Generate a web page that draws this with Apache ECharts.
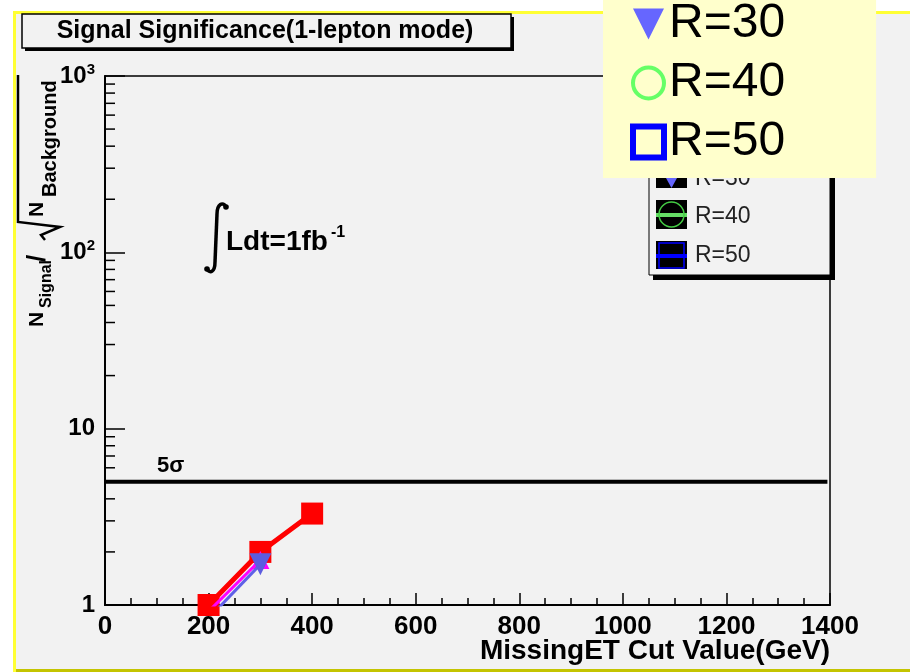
<!DOCTYPE html>
<html>
<head>
<meta charset="utf-8">
<title>Signal Significance</title>
<script src="https://cdn.jsdelivr.net/npm/echarts@6/dist/echarts.min.js"></script>
<style>
  html, body { margin: 0; padding: 0; background: #fff; }
  #chart { width: 910px; height: 672px; }
</style>
</head>
<body>
<div id="chart"></div>
<script>
const FONT = "'Liberation Sans', Arial, sans-serif"

// values
const r10X = [200, 300, 400]
const r10Y = [1.0, 2.0, 3.3]
const r20X = [200, 300]
const r20Y = [0.92, 1.8]
const r30X = [200, 300]
const r30Y = [0.84, 1.7]
const fiveSigma = 5
const fiveSigmaX = [0, 1395]
const yMinorTicks = [2, 3, 4, 5, 6, 7, 8, 9, 20, 30, 40, 50, 60, 70, 80, 90, 200, 300, 400, 500, 600, 700, 800, 900]
const yTickLabels = { 1: "1", 10: "10", 100: "10{sup|2}", 1000: "10{sup|3}" }
const legendNames = ["R=30", "R=40", "R=50"]

const pairs = (xs, ys) => xs.map((x, i) => [x, ys[i]])

const chart = echarts.init(document.getElementById("chart"), null, { renderer: "canvas" })

// text placed by its baseline (approx: middle of caps sits 0.36em above it)
const txt = (x, baseline, text, size, extra) => ({
  type: "text", x, y: baseline - 0.36 * size, silent: true, z: 5,
  style: Object.assign({ text, fill: "#000", font: "bold " + size + "px " + FONT, verticalAlign: "middle" }, extra || {}),
})
const curve = (s) => ({ type: "bezierCurve", silent: true, z: 5, shape: s, style: { fill: "none", stroke: "#000", lineWidth: 3.5 } })

chart.setOption({
  backgroundColor: "#f2f2f2",
  animation: false,
  grid: {
    left: 105, right: 80, top: 76, bottom: 67,
    containLabel: false, outerBoundsMode: "none",
    show: true, borderColor: "#000", borderWidth: 1.5, backgroundColor: "transparent",
  },
  legend: {
    data: [
      { name: legendNames[0], icon: "path://M0,0L10,0L5,10Z", itemStyle: { color: "#6666ff" } },
      { name: legendNames[1], icon: "circle", itemStyle: { color: "rgba(0,0,0,0)", borderColor: "#66ff66", borderWidth: 4 } },
      { name: legendNames[2], icon: "rect", itemStyle: { color: "rgba(0,0,0,0)", borderColor: "#0000ff", borderWidth: 6 } },
    ],
    orient: "vertical",
    left: 603, top: 0,
    padding: [0, 91, 12, 27],
    itemWidth: 31, itemHeight: 31, itemGap: 11,
    backgroundColor: "#ffffcc",
    selectedMode: false,
    textStyle: { fontSize: 48, color: "#000", fontFamily: FONT },
    z: 20,
  },
  xAxis: {
    type: "value", min: 0, max: 1400, interval: 200,
    axisLine: { show: true, lineStyle: { color: "#000", width: 2 } },
    axisTick: { inside: true, length: 12, lineStyle: { color: "#000", width: 1.5 } },
    minorTick: { show: true, splitNumber: 4, length: 7, lineStyle: { color: "#000", width: 1.5 } },
    splitLine: { show: false },
    axisLabel: { color: "#000", fontSize: 26, fontWeight: "bold", fontFamily: FONT, margin: 9, formatter: (v) => String(v) },
  },
  yAxis: {
    type: "log", logBase: 10, min: 1, max: 1000,
    axisLine: { show: true, lineStyle: { color: "#000", width: 2 } },
    axisTick: { inside: true, length: 20, lineStyle: { color: "#000", width: 1.5 } },
    splitLine: { show: false },
    axisLabel: {
      color: "#000", fontSize: 24, fontWeight: "bold", fontFamily: FONT, margin: 10,
      formatter: (v) => yTickLabels[Math.round(v)] || "",
      rich: { sup: { fontSize: 15, fontWeight: "bold", fontFamily: FONT, color: "#000", verticalAlign: "top", padding: [0, 0, 12, 0] } },
    },
  },
  series: [
    {
      name: "minorY", type: "custom", silent: true, clip: false, z: 3,
      data: yMinorTicks.map((v) => [0, v]),
      renderItem: (params, api) => {
        const p = api.coord([0, api.value(1)])
        return { type: "line", shape: { x1: p[0], y1: p[1], x2: p[0] + 10, y2: p[1] }, style: { stroke: "#000", lineWidth: 1.5 } }
      },
    },
    {
      name: "5sigma", type: "line", silent: true, symbol: "none", z: 3,
      data: fiveSigmaX.map((x) => [x, fiveSigma]),
      lineStyle: { color: "#000", width: 4 },
    },
    {
      name: "R=10", type: "line", clip: false, z: 4,
      data: pairs(r10X, r10Y),
      symbol: "rect", symbolSize: 22,
      itemStyle: { color: "#ff0000" },
      lineStyle: { color: "#ff0000", width: 5 },
    },
    {
      name: "R=20", type: "line", z: 5,
      data: pairs(r20X, r20Y),
      symbol: "triangle", symbolSize: 18,
      itemStyle: { color: "#ff00ff" },
      lineStyle: { color: "#ff00ff", width: 3 },
    },
    {
      name: "R=30", type: "line", z: 6,
      data: pairs(r30X, r30Y),
      symbol: "path://M0,0L10,0L5,10Z", symbolSize: 22,
      itemStyle: { color: "#5c5ce0" },
      lineStyle: { color: "#6060e8", width: 3 },
    },
    { name: "R=40", type: "line", data: [], itemStyle: { color: "#66ff66" } },
    { name: "R=50", type: "line", data: [], itemStyle: { color: "#0000ff" } },
  ],
  graphic: [
    // canvas frame
    { type: "rect", silent: true, z: 1, shape: { x: 0, y: 0, width: 910, height: 11 }, style: { fill: "#fff" } },
    { type: "rect", silent: true, z: 1, shape: { x: 0, y: 0, width: 13, height: 672 }, style: { fill: "#fff" } },
    { type: "rect", silent: true, z: 1, shape: { x: 13, y: 11, width: 897, height: 3 }, style: { fill: "#ffff33" } },
    { type: "rect", silent: true, z: 1, shape: { x: 13, y: 11, width: 3, height: 661 }, style: { fill: "#ffff33" } },
    { type: "rect", silent: true, z: 1, shape: { x: 16, y: 669, width: 894, height: 3 }, style: { fill: "#c4c400" } },
    // title box
    { type: "rect", silent: true, z: 1, shape: { x: 25, y: 17, width: 489, height: 34 }, style: { fill: "#000" } },
    { type: "rect", silent: true, z: 2, shape: { x: 22, y: 14, width: 489, height: 34 }, style: { fill: "#f2f2f2", stroke: "#000", lineWidth: 1.5 } },
    txt(265, 40, "Signal Significance(1-lepton mode)", 25, { align: "center" }),
    // x axis title
    txt(830, 661, "MissingET Cut Value(GeV)", 28, { align: "right" }),
    // ROOT legend box below the overlay
    { type: "rect", silent: true, z: 1, shape: { x: 653, y: 140, width: 182, height: 140 }, style: { fill: "#000" } },
    { type: "rect", silent: true, z: 2, shape: { x: 649, y: 135, width: 181, height: 140 }, style: { fill: "#f2f2f2", stroke: "#000", lineWidth: 1 } },
    { type: "rect", silent: true, z: 3, shape: { x: 656, y: 160, width: 31, height: 28 }, style: { fill: "#000" } },
    { type: "rect", silent: true, z: 3, shape: { x: 656, y: 200, width: 31, height: 29 }, style: { fill: "#000" } },
    { type: "rect", silent: true, z: 3, shape: { x: 656, y: 241, width: 31, height: 28 }, style: { fill: "#000" } },
    { type: "polygon", silent: true, z: 4, shape: { points: [[666, 178], [677, 178], [671.5, 188]] }, style: { fill: "#6666ff" } },
    { type: "line", silent: true, z: 4, shape: { x1: 656, y1: 215, x2: 687, y2: 215 }, style: { stroke: "#66dd66", lineWidth: 4 } },
    { type: "circle", silent: true, z: 4, shape: { cx: 671.5, cy: 214.5, r: 12.5 }, style: { fill: "none", stroke: "#44cc44", lineWidth: 1.5 } },
    { type: "line", silent: true, z: 4, shape: { x1: 656, y1: 256, x2: 687, y2: 256 }, style: { stroke: "#0000ff", lineWidth: 4 } },
    { type: "rect", silent: true, z: 4, shape: { x: 659, y: 243, width: 25, height: 25 }, style: { fill: "none", stroke: "#0000ff", lineWidth: 1.5 } },
    { type: "text", x: 695, y: 179, silent: true, z: 5, style: { text: "R=30", font: "23px " + FONT, verticalAlign: "middle", fill: "#222" } },
    { type: "text", x: 695, y: 217, silent: true, z: 5, style: { text: "R=40", font: "23px " + FONT, verticalAlign: "middle", fill: "#222" } },
    { type: "text", x: 695, y: 256, silent: true, z: 5, style: { text: "R=50", font: "23px " + FONT, verticalAlign: "middle", fill: "#222" } },
    // luminosity
    curve({ x1: 226, y1: 207, cpx1: 223, cpy1: 201, cpx2: 217, cpy2: 204, x2: 217, y2: 214 }),
    { type: "line", silent: true, z: 5, shape: { x1: 217, y1: 214, x2: 215, y2: 262 }, style: { stroke: "#000", lineWidth: 3.5 } },
    curve({ x1: 215, y1: 262, cpx1: 215, cpy1: 272, cpx2: 210, cpy2: 274, x2: 207, y2: 269 }),
    { type: "circle", silent: true, z: 5, shape: { cx: 226, cy: 207, r: 2.8 }, style: { fill: "#000" } },
    { type: "circle", silent: true, z: 5, shape: { cx: 207, cy: 269, r: 2.8 }, style: { fill: "#000" } },
    txt(226, 252, "Ldt=1fb", 28),
    txt(331, 238, "-1", 16),
    // 5 sigma label
    txt(157, 474, "5σ", 22),
    // y axis title, rotated
    {
      type: "group", x: 0, y: 0, rotation: Math.PI / 2, silent: true, z: 5,
      children: [
        txt(-327, 45, "N", 21),
        txt(-308, 52, "Signal", 16),
        txt(-262, 47, "/", 26),
        txt(-217, 45, "N", 21),
        txt(-197, 58, "Background", 20),
      ],
    },
    { type: "polyline", silent: true, z: 5, shape: { points: [[18, 75], [18, 222], [60, 227], [41, 235], [45, 240]] }, style: { fill: "none", stroke: "#000", lineWidth: 2.5 } },
  ],
})
</script>
</body>
</html>
